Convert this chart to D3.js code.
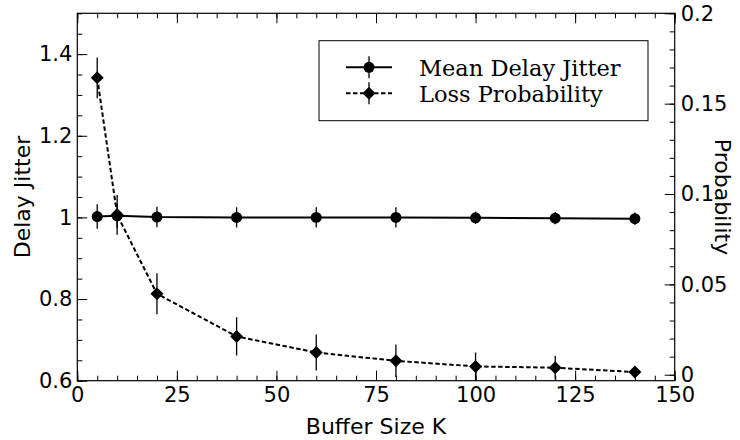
<!DOCTYPE html>
<html>
<head>
<meta charset="utf-8">
<script src="https://cdn.jsdelivr.net/npm/d3@7"></script>
<style>
  body { margin: 0; background: #fff; }
  svg text { font-family: "DejaVu Sans", sans-serif; fill: #000; }
  .legend text { font-family: "DejaVu Serif", serif; }
</style>
</head>
<body>
<div id="chart"></div>
<script>
// buffer sizes (K)
const bufferSizes = [5, 10, 20, 40, 60, 80, 100, 120, 140];
// mean delay jitter (left axis) and its error
const jitter = [1.002, 1.004, 1.001, 1.000, 1.000, 1.000, 0.999, 0.998, 0.997];
const jitterErr = [0.03, 0.03, 0.025, 0.025, 0.025, 0.025, 0.015, 0.015, 0.015];
// loss probability (right axis) and its error
const loss = [0.1643, 0.0885, 0.0448, 0.0212, 0.0123, 0.0077, 0.0046, 0.0039, 0.0015];
const lossErr = [0.0113, 0.011, 0.0113, 0.0106, 0.010, 0.009, 0.0077, 0.0066, 0.003];

const xTicks = [0, 25, 50, 75, 100, 125, 150];
const leftTicks = [0.6, 0.8, 1, 1.2, 1.4];
const rightTicks = [0, 0.05, 0.1, 0.15, 0.2];
const seriesNames = ["Mean Delay Jitter", "Loss Probability"];

const W = 740, H = 440;
const margin = {top: 13.3, right: 65.3, bottom: 59.3, left: 77.3};
const w = W - margin.left - margin.right,
  h = H - margin.top - margin.bottom;

const svg = d3.select("#chart").append("svg")
  .attr("width", W)
  .attr("height", H);

const g = svg.append("g")
  .attr("transform", `translate(${margin.left},${margin.top})`);

const x = d3.scaleLinear().domain([0, 150]).range([0, w]);
const yL = d3.scaleLinear().domain([0.6, 1.5]).range([h, 0]);
const yR = d3.scaleLinear().domain([-0.0033, 0.2]).range([h, 0]);

const fmt = d3.format("~g");

// axes: ticks point inward
function styleAxis(sel) {
  sel.select(".domain").remove();
  sel.selectAll("line").attr("stroke", "#000").attr("stroke-width", 1);
  sel.selectAll("text").attr("font-size", 21).attr("font-family", "DejaVu Sans");
}

// minor ticks
g.append("g").attr("transform", `translate(0,${h})`)
  .call(d3.axisBottom(x).tickValues(d3.range(0, 151, 5)).tickSize(-5).tickFormat(""))
  .call(styleAxis);
g.append("g")
  .call(d3.axisTop(x).tickValues(d3.range(0, 151, 5)).tickSize(-5).tickFormat(""))
  .call(styleAxis);
g.append("g")
  .call(d3.axisLeft(yL).tickValues(d3.range(12, 31).map(d => d * 0.05)).tickSize(-5).tickFormat(""))
  .call(styleAxis);
g.append("g").attr("transform", `translate(${w},0)`)
  .call(d3.axisRight(yR).tickValues(d3.range(0, 21).map(d => d * 0.01)).tickSize(-5).tickFormat(""))
  .call(styleAxis);

// major ticks
g.append("g").attr("transform", `translate(0,${h})`)
  .call(d3.axisBottom(x).tickValues(xTicks).tickSize(-10).tickPadding(6).tickFormat(fmt))
  .call(styleAxis);
g.append("g")
  .call(d3.axisTop(x).tickValues(xTicks).tickSize(-10).tickFormat(""))
  .call(styleAxis);
g.append("g")
  .call(d3.axisLeft(yL).tickValues(leftTicks).tickSize(-10).tickPadding(5).tickFormat(fmt))
  .call(styleAxis);
g.append("g").attr("transform", `translate(${w},0)`)
  .call(d3.axisRight(yR).tickValues(rightTicks).tickSize(-10).tickPadding(6).tickFormat(fmt))
  .call(styleAxis);

// frame
g.append("rect")
  .attr("width", w).attr("height", h)
  .attr("fill", "none").attr("stroke", "#000").attr("stroke-width", 1.2);

g.append("clipPath").attr("id", "clip")
  .append("rect").attr("width", w).attr("height", h);

const plot = g.append("g").attr("clip-path", "url(#clip)");

const jitterData = bufferSizes.map((k, i) => ({k, v: jitter[i], e: jitterErr[i]}));
const lossData = bufferSizes.map((k, i) => ({k, v: loss[i], e: lossErr[i]}));

const diamond = d3.symbol().type(d3.symbolSquare).size(84);

// jitter series
plot.append("g").selectAll("line")
  .data(jitterData).join("line")
  .attr("x1", d => x(d.k)).attr("x2", d => x(d.k))
  .attr("y1", d => yL(d.v - d.e)).attr("y2", d => yL(d.v + d.e))
  .attr("stroke", "#000").attr("stroke-width", 1.3);
plot.append("path")
  .datum(jitterData)
  .attr("fill", "none").attr("stroke", "#000").attr("stroke-width", 2)
  .attr("d", d3.line().x(d => x(d.k)).y(d => yL(d.v)));
plot.append("g").selectAll("circle")
  .data(jitterData).join("circle")
  .attr("cx", d => x(d.k)).attr("cy", d => yL(d.v)).attr("r", 5.5)
  .attr("fill", "#000");

// loss series
plot.append("g").selectAll("line")
  .data(lossData).join("line")
  .attr("x1", d => x(d.k)).attr("x2", d => x(d.k))
  .attr("y1", d => yR(d.v - d.e)).attr("y2", d => yR(d.v + d.e))
  .attr("stroke", "#000").attr("stroke-width", 1.3);
plot.append("path")
  .datum(lossData)
  .attr("fill", "none").attr("stroke", "#000").attr("stroke-width", 2)
  .attr("stroke-dasharray", "4.5,2.5")
  .attr("d", d3.line().x(d => x(d.k)).y(d => yR(d.v)));
plot.append("g").selectAll("path")
  .data(lossData).join("path")
  .attr("d", diamond)
  .attr("transform", d => `translate(${x(d.k)},${yR(d.v)}) rotate(45)`)
  .attr("fill", "#000");

// axis labels
svg.append("text")
  .attr("x", margin.left + w / 2).attr("y", 434)
  .attr("text-anchor", "middle").attr("font-size", 22)
  .text("Buffer Size K");
svg.append("text")
  .attr("transform", `translate(30,${margin.top + h / 2}) rotate(-90)`)
  .attr("text-anchor", "middle").attr("font-size", 22)
  .text("Delay Jitter");
svg.append("text")
  .attr("transform", `translate(715,${margin.top + h / 2}) rotate(90)`)
  .attr("text-anchor", "middle").attr("font-size", 22)
  .text("Probability");

// legend
const legend = svg.append("g").attr("class", "legend");
legend.append("rect")
  .attr("x", 319).attr("y", 40.7).attr("width", 329).attr("height", 80)
  .attr("fill", "#fff").attr("stroke", "#000").attr("stroke-width", 1);

const rows = [67.3, 93.3];
seriesNames.forEach((name, i) => {
  const row = legend.append("g").attr("transform", `translate(0,${rows[i]})`);
  row.append("line")
    .attr("x1", 346).attr("x2", 392).attr("y1", 0).attr("y2", 0)
    .attr("stroke", "#000").attr("stroke-width", 2)
    .attr("stroke-dasharray", i === 1 ? "4.5,2.5" : null);
  row.append("line")
    .attr("x1", 369).attr("x2", 369).attr("y1", -11).attr("y2", 11)
    .attr("stroke", "#000").attr("stroke-width", 1.3);
  if (i === 0) {
    row.append("circle").attr("cx", 369).attr("cy", 0).attr("r", 5.5).attr("fill", "#000");
  } else {
    row.append("path").attr("d", diamond)
      .attr("transform", "translate(369,0) rotate(45)").attr("fill", "#000");
  }
  row.append("text")
    .attr("x", 419).attr("y", 8.4)
    .attr("font-size", 22.5)
    .text(name);
});
</script>
</body>
</html>
